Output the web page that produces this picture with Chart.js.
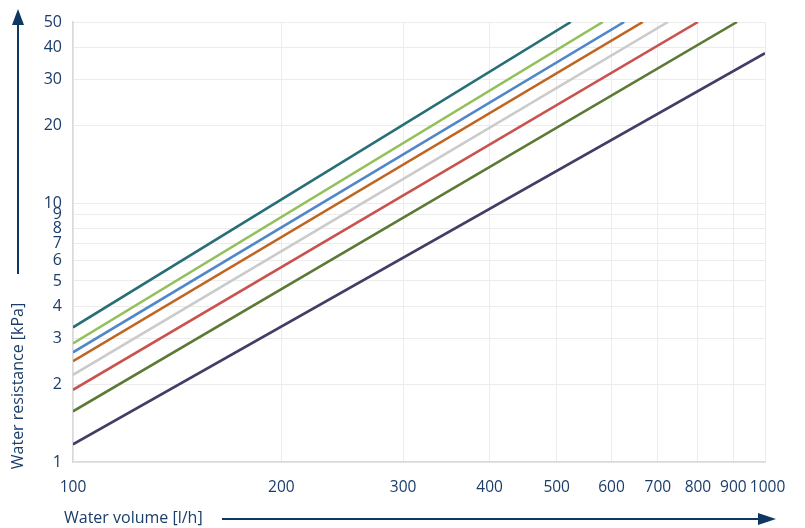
<!DOCTYPE html>
<html>
<head>
<meta charset="utf-8">
<script src="https://cdn.jsdelivr.net/npm/chart.js@4/dist/chart.umd.min.js"></script>
<style>
  html, body { margin: 0; padding: 0; background: #fff; }
  #wrap { width: 805px; height: 528px; position: relative; }
</style>
</head>
<body>
<div id="wrap"><canvas id="resistanceChart"></canvas></div>
<script>
// tick labels
const xTicks = [100, 200, 300, 400, 500, 600, 700, 800, 900, 1000]
const yTicks = [1, 2, 3, 4, 5, 6, 7, 8, 9, 10, 20, 30, 40, 50]

// each curve: start point at 100 l/h and end point where it leaves the plot
const tealLine   = [[100, 3.31], [524, 50]]
const lightGreen = [[100, 2.87], [583, 50]]
const blueLine   = [[100, 2.65], [626, 50]]
const orangeLine = [[100, 2.45], [666, 50]]
const grayLine   = [[100, 2.17], [724, 50]]
const redLine    = [[100, 1.90], [800, 50]]
const oliveLine  = [[100, 1.57], [911, 50]]
const navyLine   = [[100, 1.17], [1000, 37.9]]

const textColor = '#1b3d6a'
const arrowColor = '#0e3764'
const font = "'Open Sans', 'Noto Sans', sans-serif"

function toPoints(arr) {
    return arr.map(p => ({ x: p[0], y: p[1] }))
}

function makeSet(arr, color) {
    return {
        data: toPoints(arr),
        borderColor: color,
        backgroundColor: color,
        borderWidth: 2.6,
        pointRadius: 0,
        fill: false,
        showLine: true
    }
}

// axis titles with arrows, drawn outside the plot area
const axisArrows = {
    id: 'axisArrows',
    afterDraw(chart) {
        const ctx = chart.ctx
        ctx.save()
        ctx.fillStyle = textColor
        ctx.font = `16px ${font}`

        // y title, rotated
        ctx.save()
        ctx.translate(18, 386)
        ctx.rotate(-Math.PI / 2)
        ctx.textAlign = 'center'
        ctx.textBaseline = 'middle'
        ctx.fillText('Water resistance [kPa]', 0, 0)
        ctx.restore()

        // x title
        ctx.textAlign = 'left'
        ctx.textBaseline = 'middle'
        ctx.fillText('Water volume [l/h]', 64, 518)

        ctx.strokeStyle = arrowColor
        ctx.fillStyle = arrowColor
        ctx.lineWidth = 2

        // y arrow
        ctx.beginPath()
        ctx.moveTo(18, 274)
        ctx.lineTo(18, 22)
        ctx.stroke()
        ctx.beginPath()
        ctx.moveTo(18, 9)
        ctx.lineTo(12, 25)
        ctx.lineTo(24, 25)
        ctx.closePath()
        ctx.fill()

        // x arrow
        ctx.beginPath()
        ctx.moveTo(222, 519)
        ctx.lineTo(762, 519)
        ctx.stroke()
        ctx.beginPath()
        ctx.moveTo(776, 519)
        ctx.lineTo(758, 513)
        ctx.lineTo(758, 525)
        ctx.closePath()
        ctx.fill()
        ctx.restore()
    }
}

document.addEventListener('DOMContentLoaded', function() {
    const ctx = document.getElementById('resistanceChart').getContext('2d')
    new Chart(ctx, {
        type: 'scatter',
        data: {
            datasets: [
                makeSet(navyLine, '#433d66'),
                makeSet(oliveLine, '#5b7a34'),
                makeSet(redLine, '#c9524f'),
                makeSet(grayLine, '#cbcbcb'),
                makeSet(orangeLine, '#c0641f'),
                makeSet(blueLine, '#4f87c8'),
                makeSet(lightGreen, '#92c05b'),
                makeSet(tealLine, '#286e76')
            ]
        },
        options: {
            responsive: true,
            maintainAspectRatio: false,
            animation: false,
            layout: { padding: { left: 0, top: 22, right: 40, bottom: 0 } },
            plugins: {
                legend: { display: false },
                tooltip: { enabled: false }
            },
            scales: {
                x: {
                    type: 'logarithmic',
                    min: 100,
                    max: 1000,
                    afterBuildTicks: s => { s.ticks = xTicks.map(v => ({ value: v })) },
                    afterFit: s => { s.height = 66 },
                    border: { color: '#d9d9d9', width: 1.5 },
                    grid: { color: '#ececec', drawTicks: false },
                    ticks: {
                        color: textColor,
                        font: { family: font, size: 15.5 },
                        padding: 16,
                        maxRotation: 0,
                        autoSkip: false,
                        // last label sits a little right of its tick, as in the original
                        callback: v => (v === 1000 ? '\u2009\u2009' + v : String(v))
                    }
                },
                y: {
                    type: 'logarithmic',
                    min: 1,
                    max: 50,
                    afterBuildTicks: s => { s.ticks = yTicks.map(v => ({ value: v })) },
                    afterFit: s => { s.width = 73 },
                    border: { color: '#d9d9d9', width: 1.5 },
                    grid: { color: '#ececec', drawTicks: false },
                    ticks: {
                        color: textColor,
                        font: { family: font, size: 16 },
                        padding: 11,
                        autoSkip: false,
                        callback: v => String(v)
                    }
                }
            }
        },
        plugins: [axisArrows]
    })
})
</script>
</body>
</html>
